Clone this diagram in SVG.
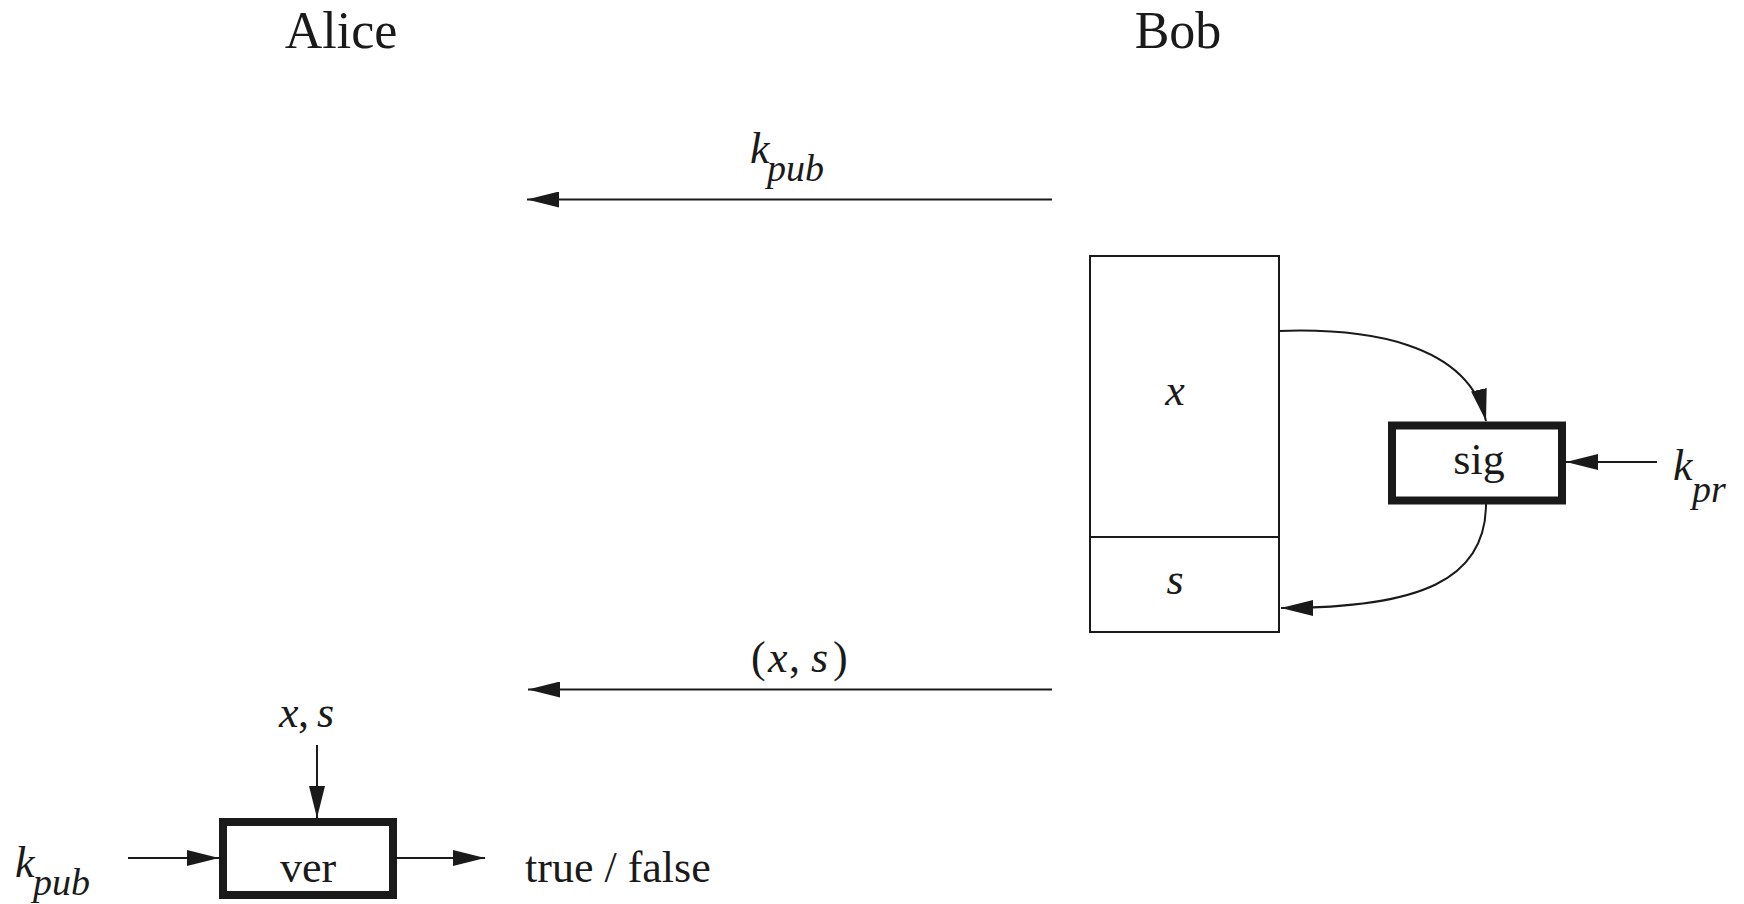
<svg xmlns="http://www.w3.org/2000/svg" width="1744" height="904" viewBox="0 0 1744 904">
<style>
text { font-family: "Liberation Serif", "Times New Roman", serif; fill: #1a1a1a; }
.title { font-size: 52px; }
.lbl { font-size: 44px; }
.it { font-style: italic; }
.sub { font-size: 38px; font-style: italic; }
.thin { fill: none; stroke: #1a1a1a; stroke-width: 2; }
.box { fill: #fff; stroke: #1a1a1a; stroke-width: 8; }
.wire { fill: none; stroke: #1a1a1a; stroke-width: 2; marker-end: url(#ah); }
</style>
<defs>
<marker id="ah" markerUnits="userSpaceOnUse" markerWidth="32" markerHeight="16" refX="32" refY="8" orient="auto" viewBox="0 0 32 16">
<path d="M0,0 L32,8 L0,16 z" fill="#1a1a1a"/>
</marker>
</defs>
<rect width="1744" height="904" fill="#fff"/>

<g id="alice"><text class="title" x="341" y="48" text-anchor="middle">Alice</text></g>
<g id="bob"><text class="title" x="1178" y="48" text-anchor="middle">Bob</text></g>

<g id="message">
<rect class="thin" x="1090" y="256" width="189" height="376"/>
<line class="thin" x1="1090" y1="537" x2="1279" y2="537"/>
<text class="lbl it" x="1175" y="405" text-anchor="middle">x</text>
<text class="lbl it" x="1175" y="594" text-anchor="middle">s</text>
</g>

<g id="sig">
<rect class="box" x="1392" y="425.5" width="170" height="75"/>
<text class="lbl" x="1479" y="474" text-anchor="middle">sig</text>
</g>

<g id="ver">
<rect class="box" x="223" y="822" width="170" height="73"/>
<text class="lbl" x="308" y="882" text-anchor="middle">ver</text>
</g>

<g id="labels">
<text class="lbl it" x="750" y="163">k<tspan class="sub" x="767" y="181">pub</tspan></text>
<text class="lbl it" x="1673" y="480">k<tspan class="sub" x="1692" y="502">pr</tspan></text>
<text class="lbl" y="672"><tspan x="751">(</tspan><tspan class="it" x="768">x</tspan><tspan x="789">,</tspan><tspan class="it" x="811">s</tspan><tspan x="833">)</tspan></text>
<text class="lbl" y="727"><tspan class="it" x="279">x</tspan><tspan x="298">,</tspan><tspan class="it" x="317">s</tspan></text>
<text class="lbl it" x="15" y="877">k<tspan class="sub" x="33" y="895">pub</tspan></text>
<text class="lbl" x="525" y="882">true / false</text>
</g>

<g id="connectors">
<line class="wire" x1="1052" y1="199.5" x2="527" y2="199.5"/>
<line class="wire" x1="1052" y1="689.5" x2="528" y2="689.5"/>
<path class="wire" d="M1279,331 C1365,328 1468,342 1486,421"/>
<path class="wire" d="M1486,504 C1486,580 1420,608 1281,608"/>
<line class="wire" x1="1657" y1="462" x2="1566" y2="462"/>
<line class="wire" x1="317" y1="745" x2="317" y2="818"/>
<line class="wire" x1="128" y1="858" x2="219" y2="858"/>
<line class="wire" x1="397" y1="858" x2="485" y2="858"/>
</g>
</svg>
